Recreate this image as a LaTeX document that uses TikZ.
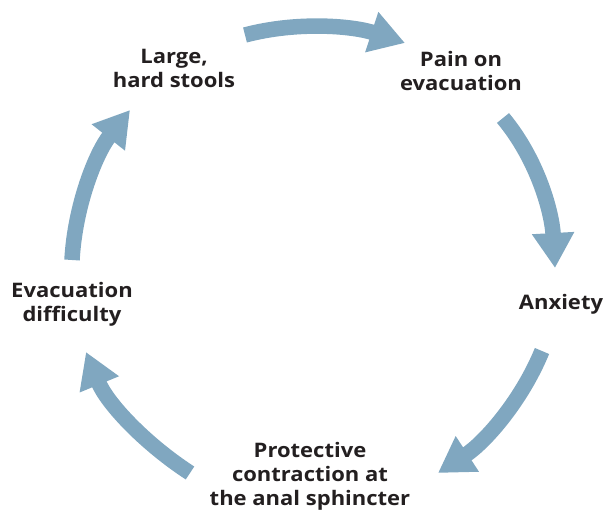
\documentclass[tikz,border=0pt]{standalone}
\usepackage{fontspec}
\setmainfont{Open Sans}[FakeStretch=1.1]
\usetikzlibrary{arrows.meta}
\definecolor{cyclearrow}{RGB}{128,167,192}
\definecolor{labelink}{RGB}{35,31,32}
\tikzset{
  cyclelabel/.style={align=center,text=labelink,inner sep=0pt,
    font=\fontsize{20}{24}\selectfont\bfseries},
  cyclearrow/.style={draw=cyclearrow,line width=15.5pt,line cap=butt,
    -{Triangle[width=40pt,length=35pt]}}
}
\begin{document}
\begin{tikzpicture}[x=1pt,y=-1pt]
    \useasboundingbox (0,0) rectangle (608,520);
    % labels round the cycle
    \node[cyclelabel] (stools) at (174,68) {Large,\\hard stools};
    \node[cyclelabel] (pain) at (461,71) {Pain on\\evacuation};
    \node[cyclelabel] (anxiety) at (561,304) {Anxiety};
    \node[cyclelabel] (contraction) at (310,476) {Protective\\contraction at\\the anal sphincter};
    \node[cyclelabel] (difficulty) at (72,304) {Evacuation\\difficulty};
    % tails and tips of the arrows
    \coordinate (t1) at (245,35);  \coordinate (h1) at (405,43);
    \coordinate (t2) at (503,118); \coordinate (h2) at (555,268);
    \coordinate (t3) at (542,351); \coordinate (h3) at (438,473);
    \coordinate (t4) at (190,473); \coordinate (h4) at (86,352);
    \coordinate (t5) at (72,260);  \coordinate (h5) at (130,110);
    \draw[cyclearrow] (t1) .. controls (298,21) and (353,26) .. (h1);
    \draw[cyclearrow] (t2) .. controls (538,160) and (552,213) .. (h2);
    \draw[cyclearrow] (t3) .. controls (521,402) and (484,443) .. (h3);
    \draw[cyclearrow] (t4) .. controls (144,443) and (107,403) .. (h4);
    \draw[cyclearrow] (t5) .. controls (75,205) and (96,153) .. (h5);
\end{tikzpicture}
\end{document}
